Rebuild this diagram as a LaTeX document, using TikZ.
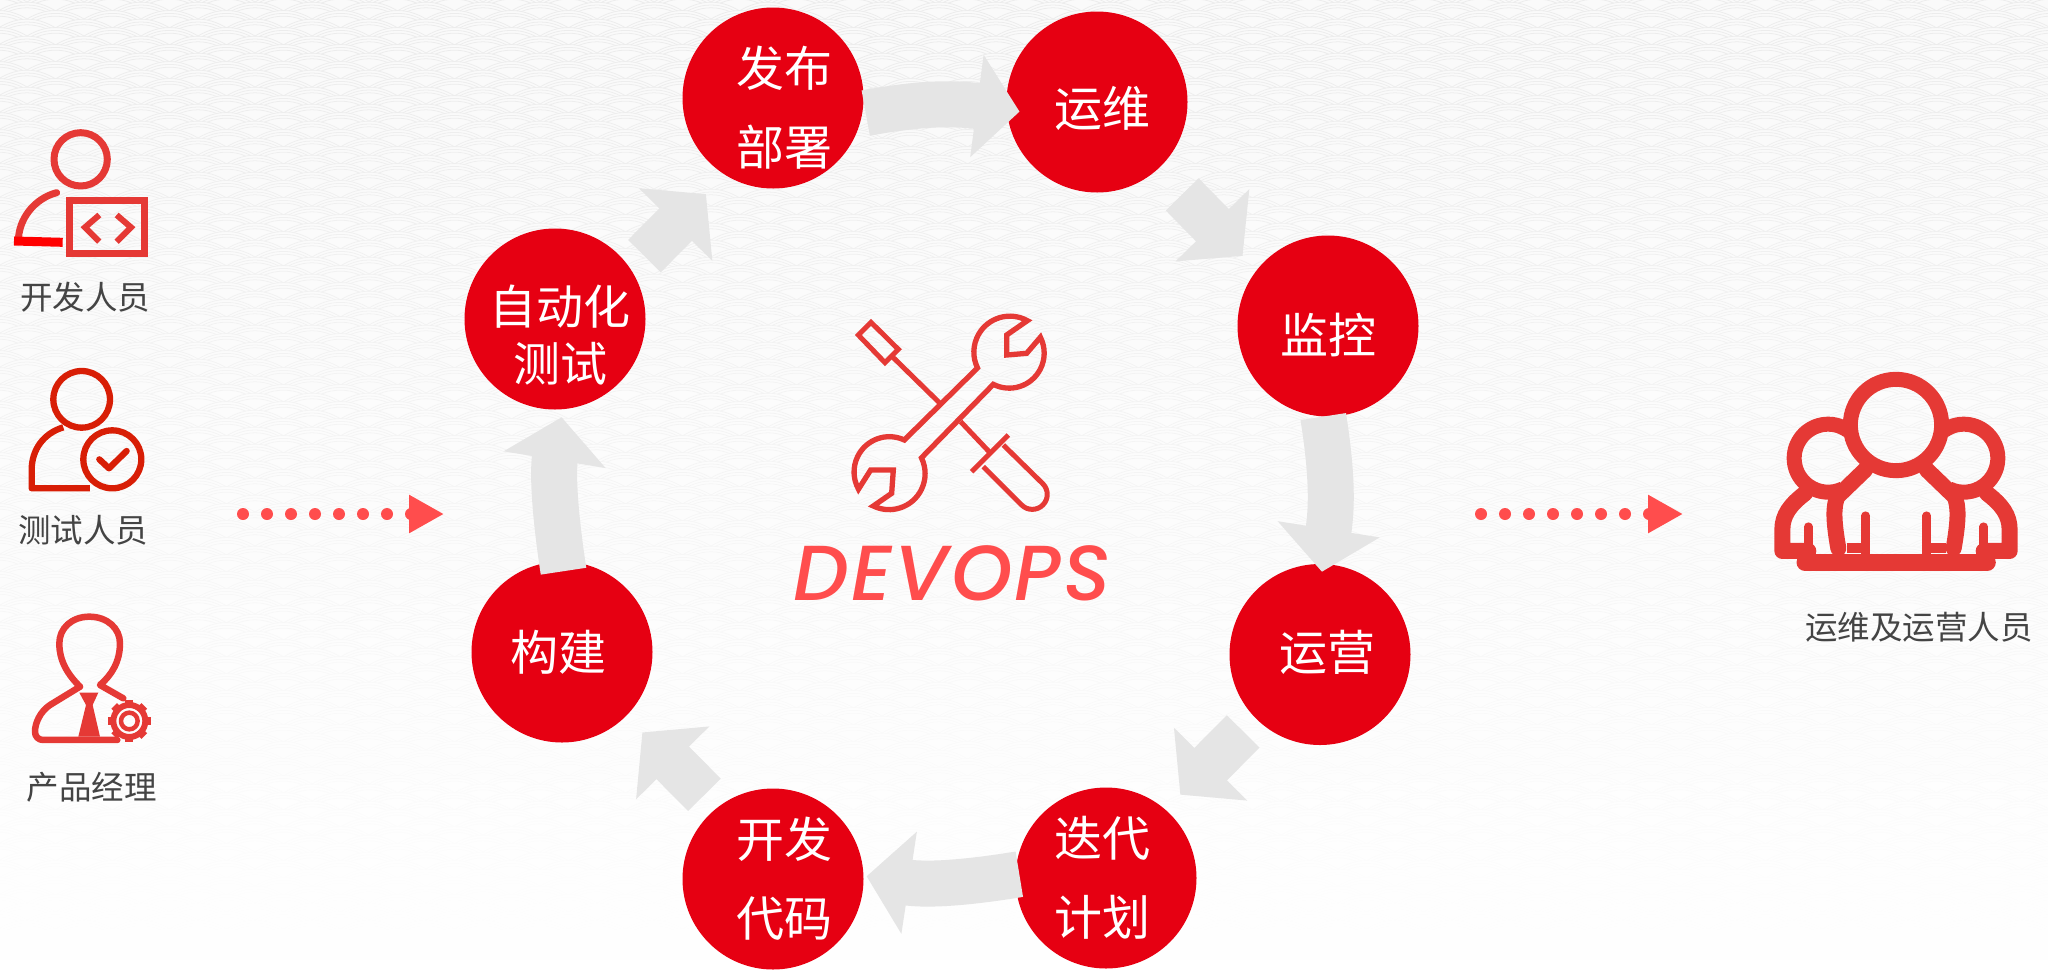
\documentclass[tikz,border=0pt]{standalone}
\usepackage{fontspec}
\usetikzlibrary{arrows.meta,patterns}
\setmainfont{Liberation Sans}
\newfontfamily\cjk{Noto Sans CJK SC}
\newfontfamily\logofont[LetterSpace=3,ItalicFont={Poppins Medium Italic}]{Poppins}
\definecolor{stagered}{HTML}{E60012}
\definecolor{flowgray}{HTML}{E5E5E5}
\definecolor{iconred}{HTML}{E53935}
\definecolor{testred}{HTML}{D81E06}
\definecolor{dotred}{HTML}{FF4D4D}
\definecolor{labelgray}{HTML}{444444}
\definecolor{wavebase}{HTML}{FAFAFA}
\definecolor{waveline}{HTML}{ECECEC}
\newcommand{\wavearc}[3]{%
  \pgfpathmoveto{\pgfpoint{-#1pt}{#2pt-#3pt}}%
  \pgfpathcurveto{\pgfpoint{-#1pt/3}{#2pt+#3pt/3}}{\pgfpoint{#1pt/3}{#2pt+#3pt/3}}{\pgfpoint{#1pt}{#2pt-#3pt}}}
\newcommand{\wavearch}[2]{%
  \begin{pgfscope}\pgftransformshift{\pgfpoint{#1pt}{#2pt}}%
  \wavearc{28.5}{0}{8.7}\wavearc{23.75}{-2.9}{6.04}\wavearc{19}{-5.8}{3.87}\pgfusepath{stroke}\end{pgfscope}}
\pgfdeclarepatternformonly{seawave}{\pgfqpoint{0pt}{0pt}}{\pgfqpoint{57pt}{17.4pt}}{\pgfqpoint{57pt}{17.4pt}}{%
  \pgfsetlinewidth{0.8pt}%
  \wavearch{28.5}{17.4}\wavearch{0}{8.7}\wavearch{57}{8.7}\wavearch{0}{26.1}\wavearch{57}{26.1}}
\tikzset{
  stage/.style={circle,fill=stagered,minimum size=181pt,inner sep=0pt},
  stagetext/.style={white,align=center,inner sep=0pt,font={\cjk\fontsize{48}{79}\selectfont}},
  staffname/.style={labelgray,inner sep=0pt,font={\cjk\fontsize{32.5}{32.5}\selectfont}},
  flowline/.style={draw=flowgray,line width=46pt,-{Triangle[width=101pt,length=43pt]}},
  dotline/.style={draw=dotred,line width=12pt,line cap=round,dash pattern=on 0pt off 24pt,-{Triangle[width=36pt,length=35pt]}},
  iconline/.style={draw=iconred,line join=round,line cap=round},
  testline/.style={draw=testred,line width=6.3pt,line join=round}
}
\begin{document}
\begin{tikzpicture}[x=1pt,y=-1pt]
\useasboundingbox (0,0) rectangle (2048,970);
\fill[wavebase] (0,0) rectangle (2048,970);
\fill[pattern=seawave,pattern color=waveline] (0,0) rectangle (2048,970);
\foreach \i in {0,...,32} {
    \pgfmathsetmacro\veil{\i/32}
    \fill[white,opacity=\veil] (0,\i*30) rectangle (2048,\i*30+30);
}

\node (deploy)[stage] at (773,98) {};
\node (ops)[stage] at (1097,102) {};
\node (watch)[stage] at (1328,326) {};
\node (serve)[stage] at (1320,654.5) {};
\node (plan)[stage] at (1106,878) {};
\node (code)[stage] at (773,879) {};
\node (build)[stage] at (562,652) {};
\node (autotest)[stage] at (555,319) {};

\begin{scope}[every node/.style={stagetext}]
    \node (deployname) at (784,108) {发布\\部署};
    \node (opsname) at (1102,108) {运维};
    \node (watchname) at (1328,335) {监控};
    \node (servename) at (1327,652) {运营};
    \node (planname) at (1102,878) {迭代\\计划};
    \node (codename) at (784,879) {开发\\代码};
    \node (buildname) at (558,652) {构建};
    \node (autotestname)[font={\cjk\fontsize{47}{57}\selectfont}] at (560,335) {自动化\\测试};
\end{scope}

\draw[flowline,shorten <=3.5pt,shorten >=-13pt] (deploy.-10.5) to[bend left=9] (ops.185);
\draw[flowline,shorten <=35pt,shorten >=20pt] (ops.-48) -- (watch.142);
\draw[flowline,shorten >=-8pt] (watch.-93) to[bend left=9] (serve.88);
\draw[flowline,shorten <=18pt,shorten >=21pt] (serve.-135) -- (plan.49);
\draw[flowline,shorten <=-4pt,shorten >=3pt] (plan.178) to[bend left=9] (code.2);
\draw[flowline,shorten <=18pt,shorten >=23pt] (code.128) -- (build.-45);
\draw[flowline,shorten <=-10pt,shorten >=8pt] (build.90) to[bend left=9] (autotest.-85);
\draw[flowline,shorten <=19pt,shorten >=27pt] (autotest.33) -- (deploy.238);

\coordinate (inleft) at (243,514);
\coordinate (inright) at (444,514);
\coordinate (outleft) at (1481,514);
\coordinate (outright) at (1683,514);
\draw[dotline] (inleft) -- (inright);
\draw[dotline] (outleft) -- (outright);

\begin{scope}[shift={(0,110)},x=0.3333pt,y=-0.3333pt]
    \draw[iconline,line width=7pt] (242,148) circle[radius=80];
    \draw[iconline,line width=7pt] (170,248) .. controls (105,265) and (55,325) .. (55,395);
    \draw[red,line width=9pt] (42,393) -- (188,397);
    \draw[iconline,line width=6.5pt,line cap=butt,line join=miter] (208,272) rectangle (434,430);
    \draw[iconline,line width=6pt,line cap=butt,line join=miter] (298,315) -- (255,352) -- (298,395);
    \draw[iconline,line width=6pt,line cap=butt,line join=miter] (350,315) -- (393,352) -- (350,395);
\end{scope}
\node (devname)[staffname] at (85,297) {开发人员};

\begin{scope}[shift={(0,350)},x=0.3333pt,y=-0.3333pt]
    \draw[testline] (245,148) circle[radius=85];
    \draw[testline] (190,232) .. controls (130,250) and (95,300) .. (95,360) -- (95,415) -- (270,415);
    \draw[testline] (337,328) circle[radius=87];
    \draw[testline,line cap=round] (298,328) -- (327,355) -- (380,303);
\end{scope}
\node (testname)[staffname] at (83,530) {测试人员};

\begin{scope}[shift={(0,590)},x=0.3333pt,y=-0.3333pt]
    \draw[iconline,line width=6.5pt] (240,290) .. controls (205,255) and (178,215) .. (178,160)
        .. controls (178,115) and (215,80) .. (268,80) .. controls (322,80) and (360,115) .. (360,160)
        .. controls (360,215) and (335,255) .. (300,285) -- (370,325);
    \draw[iconline,line width=6.5pt] (240,290) -- (150,345) .. controls (120,365) and (105,400) .. (105,425)
        .. controls (105,440) and (115,450) .. (130,450) -- (352,450);
    \fill[iconred] (238,308) -- (295,308) -- (278,345) -- (300,440) -- (235,440) -- (258,345) -- cycle;
    \draw[iconline,line width=6pt] (388,393) circle[radius=48];
    \foreach \a in {0,45,...,315} {
        \draw[iconred,line width=8pt] (388,393) ++(\a:48) -- ++(\a:16);
    }
    \draw[iconline,line width=4.5pt] (388,393) circle[radius=25];
\end{scope}
\node (pmname)[staffname] at (92,787) {产品经理};

\begin{scope}[shift={(770,290)},x=0.3333pt,y=-0.3333pt]
    \draw[iconline,line width=5.3pt,line cap=butt,line join=miter] (772,92) arc[start angle=-61,end angle=-206,radius=108]
        -- (403,450) arc[start angle=-65,end angle=-209,radius=106]
        -- (302,540) -- (370,540) -- (365,610) -- (310,648) arc[start angle=116,end angle=-26,radius=108]
        -- (670,283) arc[start angle=117,end angle=-27,radius=105]
        -- (770,190) -- (710,195) -- (710,135) -- cycle;
    \draw[iconline,line width=5pt,line cap=butt,line join=miter] (303,97) -- (385,178) -- (345,218) -- (265,135) -- cycle;
    \draw[iconline,line width=5pt,line cap=butt] (365,198) -- (508,338);
    \draw[iconline,line width=5pt,line cap=butt] (572,395) -- (662,490);
    \draw[iconline,line width=5pt,line cap=butt] (715,435) -- (605,545);
    \draw[iconline,line width=5pt,line cap=butt] (640,530) -- (755,645) arc[start angle=135,end angle=-45,radius=45] -- (700,465);
\end{scope}
\node (logoname)[dotred,inner sep=0pt,font={\logofont\itshape\fontsize{78}{78}\selectfont}] at (952,573) {DEVOPS};

\begin{scope}[shift={(1740,350)},x=0.3333pt,y=-0.3333pt]
    \draw[iconline,line width=15pt] (468,225) circle[radius=137];
    \draw[iconline,line width=15pt,line cap=butt] (323,241) arc[start angle=-55,end angle=-295,radius=102];
    \draw[iconline,line width=15pt,line cap=butt] (613,241) arc[start angle=-125,end angle=115,radius=102];
    \draw[iconline,line width=16pt] (375,360) -- (292,440) .. controls (280,470) and (280,510) .. (295,595);
    \draw[iconline,line width=16pt] (561,360) -- (644,440) .. controls (656,470) and (656,510) .. (641,595);
    \draw[iconline,line width=16pt] (195,430) .. controls (150,465) and (127,495) .. (127,540) -- (127,603) -- (205,603);
    \draw[iconline,line width=16pt] (741,430) .. controls (786,465) and (809,495) .. (809,540) -- (809,603) -- (731,603);
    \draw[iconline,line width=17pt] (195,637) -- (742,637);
    \draw[iconline,line width=8.5pt] (205,530) -- (205,625);
    \draw[iconline,line width=8.5pt] (731,530) -- (731,625);
    \draw[iconline,line width=8.5pt] (377,497) -- (377,625);
    \draw[iconline,line width=8.5pt] (560,497) -- (560,625);
    \draw[iconline,line width=10pt,line cap=butt] (320,595) -- (377,595);
    \draw[iconline,line width=10pt,line cap=butt] (560,595) -- (617,595);
\end{scope}
\node (crewname)[staffname] at (1919,627) {运维及运营人员};
\end{tikzpicture}
\end{document}
